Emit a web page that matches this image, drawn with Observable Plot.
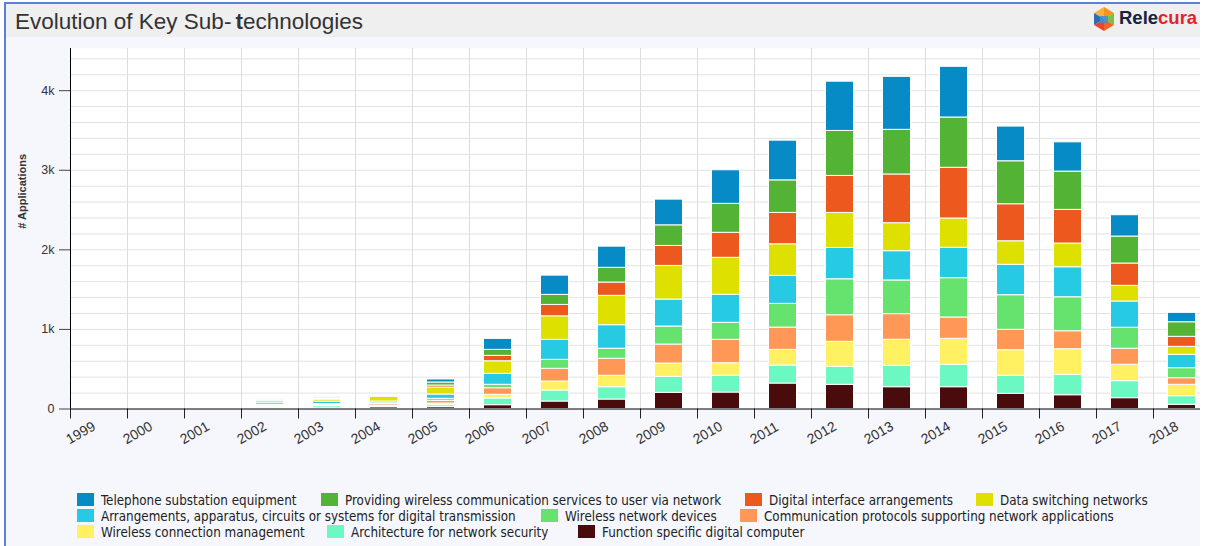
<!DOCTYPE html>
<html>
<head>
<meta charset="utf-8">
<script src="https://cdn.jsdelivr.net/npm/d3@7"></script>
<script src="https://cdn.jsdelivr.net/npm/@observablehq/plot@0.6"></script>
<style>
html, body { margin: 0; padding: 0; width: 1205px; height: 546px; overflow: hidden; background: #ffffff; }
#panel { position: absolute; left: 0; top: 0; width: 1200px; height: 546px; overflow: hidden; }
#bg { position: absolute; left: 6px; top: 37px; width: 1194px; height: 509px; background: #f6f7fd; }
#bleft { position: absolute; left: 4px; top: 2px; width: 2px; height: 544px; background: #5b80d4; }
#btop { position: absolute; left: 4px; top: 2px; width: 1196px; height: 2px; background: #5b80d4; }
#header { position: absolute; left: 6px; top: 4px; width: 1194px; height: 33px; background: #efefef; }
#title { position: absolute; left: 9px; top: 5px; font: 22.5px "Liberation Sans", Arial, sans-serif; color: #333; white-space: nowrap; }
#title b { margin-left: 4px; }
#logo { position: absolute; left: 1090px; top: 5px; width: 28px; height: 28px; }
#brand { position: absolute; left: 1119px; top: 7px; font: bold 18.5px "Liberation Sans", Arial, sans-serif; color: #16223f; white-space: nowrap; }
#brand span { color: #e2232a; }
#chart { position: absolute; left: 0; top: 0; }
#chart svg { max-width: none !important; display: block; }
.lg { position: absolute; height: 13px; line-height: 13px; font: 13.3px "DejaVu Sans Condensed", "Liberation Sans", sans-serif; color: #222; white-space: nowrap; }
.lg i { position: absolute; left: 0; top: 0; width: 17px; height: 13px; }
.lg span { position: absolute; left: 24px; top: 0; }
</style>
</head>
<body>
<div id="panel">
  <div id="bg"></div>
  <div id="header">
    <div id="title">Evolution of Key Sub-<b>t</b>echnologies</div>
  </div>
  <svg id="logo" viewBox="0 0 28 28">
    <polygon points="14,2 24,8 14,14" fill="#f7941d"/>
    <polygon points="14,2 4,8 14,14" fill="#fbb040"/>
    <polygon points="4,8 14,14 4,20" fill="#2b6cb3"/>
    <polygon points="24,8 14,14 24,20" fill="#7ac143"/>
    <polygon points="4,20 14,14 14,26" fill="#e8452c"/>
    <polygon points="24,20 14,14 14,26" fill="#f26522"/>
    <polygon points="10,11 18,11 18,18 10,18" fill="#3b8fd6" opacity="0.85"/>
  </svg>
  <div id="brand">Rele<span>cura</span></div>
  <div id="bleft"></div>
  <div id="btop"></div>
  <div id="chart"></div>
  <div id="legend"></div>
</div>
<script>
// ---------- data ----------
const years = [1999, 2000, 2001, 2002, 2003, 2004, 2005, 2006, 2007, 2008, 2009, 2010, 2011, 2012, 2013, 2014, 2015, 2016, 2017, 2018];

// legend order (top of stack first)
const seriesNames = [
  "Telephone substation equipment",
  "Providing wireless communication services to user via network",
  "Digital interface arrangements",
  "Data switching networks",
  "Arrangements, apparatus, circuits or systems for digital transmission",
  "Wireless network devices",
  "Communication protocols supporting network applications",
  "Wireless connection management",
  "Architecture for network security",
  "Function specific digital computer"
];
const seriesColors = ["#078bc7", "#53b334", "#ec581d", "#dee000", "#26cae3", "#66e36f", "#ff9757", "#fff162", "#6bf8c3", "#490b0b"];

const telephone     = [0, 0, 0, 2, 5, 5, 38, 138, 242, 266, 323, 422, 499, 619, 666, 637, 436, 368, 268, 118];
const wirelessSvc   = [0, 0, 0, 2, 15, 5, 38, 75, 126, 185, 259, 364, 409, 565, 561, 632, 540, 481, 339, 183];
const digitalIface  = [0, 0, 0, 2, 8, 5, 25, 68, 143, 167, 251, 314, 394, 465, 612, 637, 465, 423, 280, 126];
const dataSwitching = [0, 0, 0, 22, 25, 60, 88, 158, 296, 369, 423, 465, 397, 440, 352, 368, 296, 298, 197, 100];
const digitalTrans  = [0, 0, 0, 25, 30, 22, 54, 138, 251, 296, 339, 352, 352, 394, 368, 382, 382, 377, 330, 168];
const wirelessDev   = [0, 0, 0, 10, 8, 8, 25, 43, 113, 126, 226, 214, 298, 452, 423, 494, 435, 427, 264, 126];
const commProto     = [0, 0, 0, 13, 12, 20, 34, 83, 160, 214, 239, 294, 280, 334, 322, 268, 256, 226, 201, 83];
const wirelessConn  = [0, 0, 0, 12, 8, 12, 21, 46, 113, 143, 167, 158, 197, 314, 327, 327, 322, 322, 206, 143];
const netSecurity   = [0, 0, 0, 12, 25, 10, 25, 84, 138, 155, 201, 210, 226, 226, 269, 281, 226, 256, 214, 108];
const funcComputer  = [0, 0, 0, 8, 10, 22, 23, 48, 94, 119, 203, 207, 320, 304, 274, 274, 191, 173, 136, 53];

const seriesValues = [telephone, wirelessSvc, digitalIface, dataSwitching, digitalTrans, wirelessDev, commProto, wirelessConn, netSecurity, funcComputer];

const yTicks = [0, 1000, 2000, 3000, 4000];
const gridTicks = [200, 400, 600, 800, 1000, 1200, 1400, 1600, 1800, 2000, 2200, 2400, 2600, 2800, 3000, 3200, 3400, 3600, 3800, 4000, 4200, 4400];
const yMax = 4530;

// legend layout (not data)
const legendLeft = [77, 321, 745, 976, 77, 541, 740, 77, 327, 578];
const legendRow = [0, 0, 0, 0, 1, 1, 1, 2, 2, 2];
const legendRowTop = [493, 509, 525];

// ---------- table: bottom of stack first ----------
const rows = [];
for (let s = seriesNames.length - 1; s >= 0; s--) {
  years.forEach((yr, i) => rows.push({year: yr, series: seriesNames[s], value: seriesValues[s][i]}));
}

const chart = Plot.plot({
  width: 1230,
  height: 460,
  marginLeft: 70,
  marginRight: 20,
  marginTop: 48,
  marginBottom: 51.5,
  style: {background: "transparent", fontFamily: "'Liberation Sans', Arial, sans-serif", fontSize: "12px", color: "#333", overflow: "visible", maxWidth: "none"},
  x: {domain: [1999, 2019], axis: null},
  y: {domain: [0, yMax], axis: null},
  color: {domain: seriesNames, range: seriesColors},
  marks: [
    Plot.frame({fill: "white", stroke: "none"}),
    Plot.gridY(gridTicks, {stroke: "#e3e3e3", strokeOpacity: 1}),
    Plot.gridX(years, {stroke: "#dcdcdc", strokeOpacity: 1}),
    Plot.rectY(rows, {x: "year", interval: 1, y: "value", fill: "series", stroke: "white", strokeWidth: 1, insetLeft: 14.5, insetRight: 14.5}),
    Plot.axisY(yTicks, {tickSize: 11, tickPadding: 5, tickFormat: d3.format("~s"), label: null, stroke: "#444", fill: "#333", fontSize: 12.5}),
    Plot.axisX(years, {tickSize: 10, label: null, stroke: "#222", fill: "none"}),
    Plot.text(years, {x: d => d, frameAnchor: "bottom", dy: 27, dx: -6, rotate: -30, textAnchor: "start", lineAnchor: "top", text: d => String(d), fill: "#333", fontSize: 14}),
    Plot.ruleY([0], {stroke: "#000"}),
    Plot.ruleX([1999], {stroke: "#000"}),
    Plot.text(["# Applications"], {frameAnchor: "left", dx: -48, rotate: -90, fontWeight: "bold", fontSize: 11, fill: "#333"})
  ]
});
document.getElementById("chart").appendChild(chart);

// ---------- legend ----------
const legend = document.getElementById("legend");
seriesNames.forEach((name, i) => {
  const d = document.createElement("div");
  d.className = "lg";
  d.style.left = legendLeft[i] + "px";
  d.style.top = legendRowTop[legendRow[i]] + "px";
  const sw = document.createElement("i");
  sw.style.background = seriesColors[i];
  const t = document.createElement("span");
  t.textContent = name;
  d.appendChild(sw);
  d.appendChild(t);
  legend.appendChild(d);
});
</script>
</body>
</html>
